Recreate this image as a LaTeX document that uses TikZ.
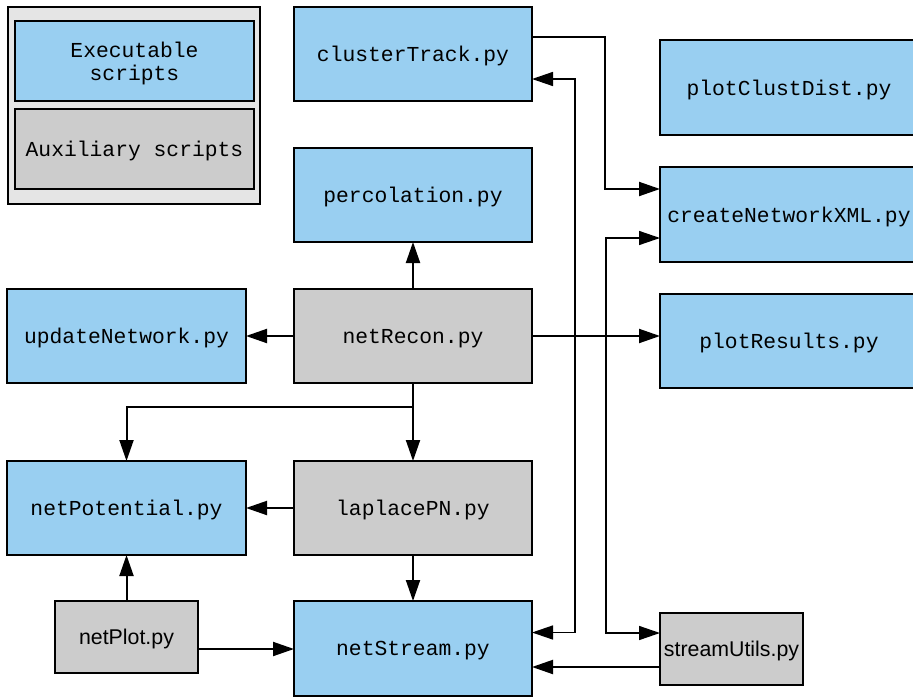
\documentclass[tikz,border=0pt]{standalone}
\usepackage{fontspec}
\setmonofont{Liberation Mono}
\setsansfont{Liberation Sans}
\usetikzlibrary{arrows.meta,calc}
\definecolor{exblue}{HTML}{99CFF1}
\definecolor{auxgray}{HTML}{CCCCCC}
\definecolor{legendbg}{HTML}{E5E5E5}
\begin{document}
\begin{tikzpicture}[x=0.75pt,y=-0.75pt,
  box/.style={draw=black,line width=1.5pt,inner sep=0pt,outer sep=0pt,
    minimum width=178.5pt,minimum height=70.5pt,align=center,
    text depth=0pt,
    font=\ttfamily\fontsize{16}{17}\selectfont},
  exe/.style={box,fill=exblue},
  aux/.style={box,fill=auxgray},
  wide/.style={minimum width=193.5pt,minimum height=71.25pt},
  small/.style={minimum width=107.25pt,minimum height=54pt,
    font=\sffamily\fontsize{16}{19}\selectfont},
  tip/.tip={Triangle[length=15.75pt,width=10.5pt]},
  link/.style={line width=1.5pt,-tip},
  thinlink/.style={line width=1.1pt,tip-tip}
]
\useasboundingbox (0,0) rectangle (913,696);

% legend
\node[draw=black,line width=1.5pt,fill=legendbg,inner sep=0pt,
  minimum width=189pt,minimum height=147.75pt] (legend) at (134,105.5) {};
\node[exe,minimum width=179.25pt,minimum height=60pt] (legexe) at (134.5,61) {Executable\\scripts};
\node[aux,minimum width=179.25pt,minimum height=60pt] (legaux) at (134.5,149) {Auxiliary scripts};

% script boxes
\node[exe] (clusterTrack) at (413,54) {clusterTrack.py};
\node[exe] (percolation) at (413,195) {percolation.py};
\node[aux] (netRecon) at (413,336) {netRecon.py};
\node[aux] (laplacePN) at (413,508) {laplacePN.py};
\node[exe,minimum height=71.25pt] (netStream) at (413,648.5) {netStream.py};
\node[exe,minimum width=179.25pt] (updateNetwork) at (126.5,336) {updateNetwork.py};
\node[exe,minimum width=179.25pt] (netPotential) at (126.5,508) {netPotential.py};
\node[aux,small] (netPlot) at (126.5,637) {netPlot.py};
\node[exe,wide] (plotClustDist) at (789,87.5) {plotClustDist.py};
\node[exe,wide] (createNetworkXML) at (789,214.5) {createNetworkXML.py};
\node[exe,wide,minimum height=70.5pt] (plotResults) at (789,341) {plotResults.py};
\node[aux,small] (streamUtils) at (731.5,649) {streamUtils.py};

% connector end points on box sides
\coordinate (npOut) at ($(netPlot.east)+(0,12)$);
\coordinate (suOut) at ($(streamUtils.west)+(0,18)$);
\coordinate (suIn) at ($(streamUtils.west)+(0,-16)$);
\coordinate (ctOut) at ($(clusterTrack.north east)+(0,30)$);
\coordinate (ctIn) at ($(clusterTrack.east)+(0,25)$);
\coordinate (nsIn) at ($(netStream.east)+(0,-16)$);
\coordinate (cxIn) at ($(createNetworkXML.north west)+(0,22)$);
\coordinate (cxIn2) at ($(createNetworkXML.north west)+(0,71)$);

% connectors
\draw[link] (netRecon.north) -- (percolation.south);
\draw[link] (netRecon.west) -- (updateNetwork.east);
\draw[link] (netRecon.east) -- (netRecon.east -| plotResults.west);
\draw[link] (netRecon.south) -- (laplacePN.north);
\draw[link] (netRecon.south) -- ++(0,24) -| (netPotential.north);
\draw[link] (laplacePN.west) -- (netPotential.east);
\draw[link] (laplacePN.south) -- (netStream.north);
\draw[link] (netPlot.north) -- (netPotential.south);
\draw[link] (npOut) -- (npOut -| netStream.west);
\draw[link] (suOut) -- (suOut -| netStream.east);
\draw[link] (ctOut) -- ++(73,0) |- (cxIn);
\draw[thinlink] (ctIn) -- ++(43,0) |- (nsIn);
\draw[thinlink] (cxIn2) -- ++(-54,0) |- (suIn);
\end{tikzpicture}
\end{document}
